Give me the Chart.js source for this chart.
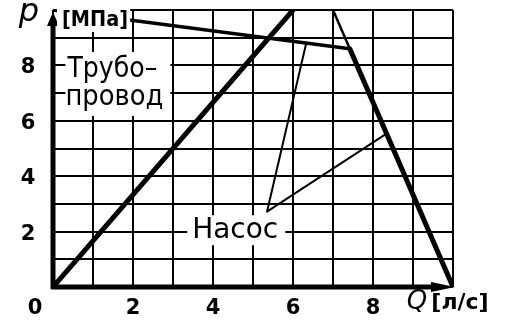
<!DOCTYPE html>
<html>
<head>
<meta charset="utf-8">
<script src="https://cdn.jsdelivr.net/npm/chart.js@4"></script>
<style>
    body { margin: 0; background: #fff; }
    canvas { display: block; }
</style>
</head>
<body>
<canvas id="grafico" width="509" height="320"></canvas>
<script>
// характеристика трубопровода
const truboQ = [0, 6];
const truboP = [0, 10];

// характеристика насоса (полка и крутой спад)
const nasosQ = [0, 7.42];
const nasosP = [10, 8.6];
const spadQ = [7.42, 10];
const spadP = [8.6, 0];
// тонкое продолжение спада над точкой излома
const spadVerhQ = [7, 7.42];
const spadVerhP = [10, 8.6];

// выноска "Насос"
const vynoskaQ = [6.33, 5.35, 8.3];
const vynoskaP = [8.8, 2.72, 5.5];

const tickQ = [0, 2, 4, 6, 8];
const tickP = [2, 4, 6, 8];

const SHRIFT = "'DejaVu Sans', sans-serif";

function tochki(xs, ys) {
    return xs.map((x, i) => ({ x: x, y: ys[i] }));
}

function liniya(xs, ys, tolshina) {
    return {
        data: tochki(xs, ys),
        showLine: true,
        borderColor: "#000",
        borderWidth: tolshina,
        pointRadius: 0,
        borderCapStyle: "round",
        borderJoinStyle: "round",
        fill: false
    };
}

function tekst(ctx, str, x, y, font, align, maxW) {
    ctx.font = font;
    ctx.textAlign = align || "center";
    ctx.textBaseline = "alphabetic";
    if (maxW) ctx.fillText(str, x, y, maxW);
    else ctx.fillText(str, x, y);
}

function ramka(ctx, x0, y0, x1, y1) {
    ctx.fillStyle = "#fff";
    ctx.fillRect(x0, y0, x1 - x0, y1 - y0);
    ctx.fillStyle = "#000";
}

const oformlenie = {
    id: "oformlenie",
    afterDatasetsDraw(chart) {
        const ctx = chart.ctx;
        const sx = chart.scales.x;
        const sy = chart.scales.y;
        const x0 = sx.getPixelForValue(0);
        const y0 = sy.getPixelForValue(0);
        const xEnd = sx.getPixelForValue(10);
        const yTop = sy.getPixelForValue(10);

        ctx.save();
        ctx.fillStyle = "#000";
        ctx.strokeStyle = "#000";

        // оси со стрелками
        ctx.lineWidth = 5;
        ctx.lineCap = "butt";
        ctx.beginPath();
        ctx.moveTo(x0, y0 + 2);
        ctx.lineTo(x0, yTop + 14);
        ctx.moveTo(x0 - 2, y0);
        ctx.lineTo(xEnd - 20, y0);
        ctx.stroke();

        ctx.beginPath();
        ctx.moveTo(x0, yTop + 2);
        ctx.lineTo(x0 - 6, yTop + 16);
        ctx.lineTo(x0 + 6, yTop + 16);
        ctx.closePath();
        ctx.fill();

        ctx.beginPath();
        ctx.moveTo(xEnd + 2, y0);
        ctx.lineTo(xEnd - 22, y0 - 5);
        ctx.lineTo(xEnd - 22, y0 + 5);
        ctx.closePath();
        ctx.fill();

        // подписи на белом фоне
        ramka(ctx, x0 + 4, 0, sx.getPixelForValue(1.93), 32);
        tekst(ctx, "[МПа]", 95, 26, "bold 22px " + SHRIFT, "center", 66);

        const tx = sx.getPixelForValue(1.61);
        const ty = sy.getPixelForValue(7.33);
        ramka(ctx, tx - 52, ty - 32, tx + 53, ty + 32);
        tekst(ctx, "Трубо–", tx - 5, ty - 7, "29px " + SHRIFT, "center", 90);
        tekst(ctx, "провод", tx - 3, ty + 21, "29px " + SHRIFT, "center", 98);

        const nx = sx.getPixelForValue(4.58);
        const ny = sy.getPixelForValue(2.05);
        ramka(ctx, nx - 49, ny - 15, nx + 49, ny + 15);
        tekst(ctx, "Насос", nx - 1, ny + 8, "29px " + SHRIFT, "center", 86);

        // подписи делений
        tickQ.forEach(q => {
            const px = q === 0 ? x0 - 18 : sx.getPixelForValue(q);
            tekst(ctx, String(q), px, y0 + 27, "bold 21px " + SHRIFT, "center");
        });
        tickP.forEach(p => {
            tekst(ctx, String(p), 28, sy.getPixelForValue(p) + 8, "bold 21px " + SHRIFT, "center");
        });

        // обозначения осей
        tekst(ctx, "p", 29, 21, "italic 32px " + SHRIFT, "center", 27);
        tekst(ctx, "Q", 417, 309, "italic 26px " + SHRIFT, "center");
        tekst(ctx, "[л/с]", 460, 309, "bold 22px " + SHRIFT, "center", 62);

        ctx.restore();
    }
};

function risovatGrafik() {
    const ctx = document.getElementById("grafico").getContext("2d");
    new Chart(ctx, {
        type: "scatter",
        data: {
            datasets: [
                liniya(truboQ, truboP, 5),
                liniya(nasosQ, nasosP, 3.5),
                liniya(spadQ, spadP, 5),
                liniya(spadVerhQ, spadVerhP, 2.5),
                liniya(vynoskaQ, vynoskaP, 2)
            ]
        },
        options: {
            responsive: false,
            animation: false,
            devicePixelRatio: 1,
            layout: { padding: { left: 53, right: 56, top: 10, bottom: 33 } },
            plugins: {
                legend: { display: false },
                tooltip: { enabled: false }
            },
            scales: {
                x: {
                    type: "linear",
                    min: 0,
                    max: 10,
                    border: { display: false },
                    grid: { color: "#000", lineWidth: 2, drawTicks: false },
                    ticks: { display: false, stepSize: 1 }
                },
                y: {
                    type: "linear",
                    min: 0,
                    max: 10,
                    border: { display: false },
                    grid: { color: "#000", lineWidth: 2, drawTicks: false },
                    ticks: { display: false, stepSize: 1 }
                }
            }
        },
        plugins: [oformlenie]
    });
}

window.onload = () => {
    risovatGrafik();
};
</script>
</body>
</html>
